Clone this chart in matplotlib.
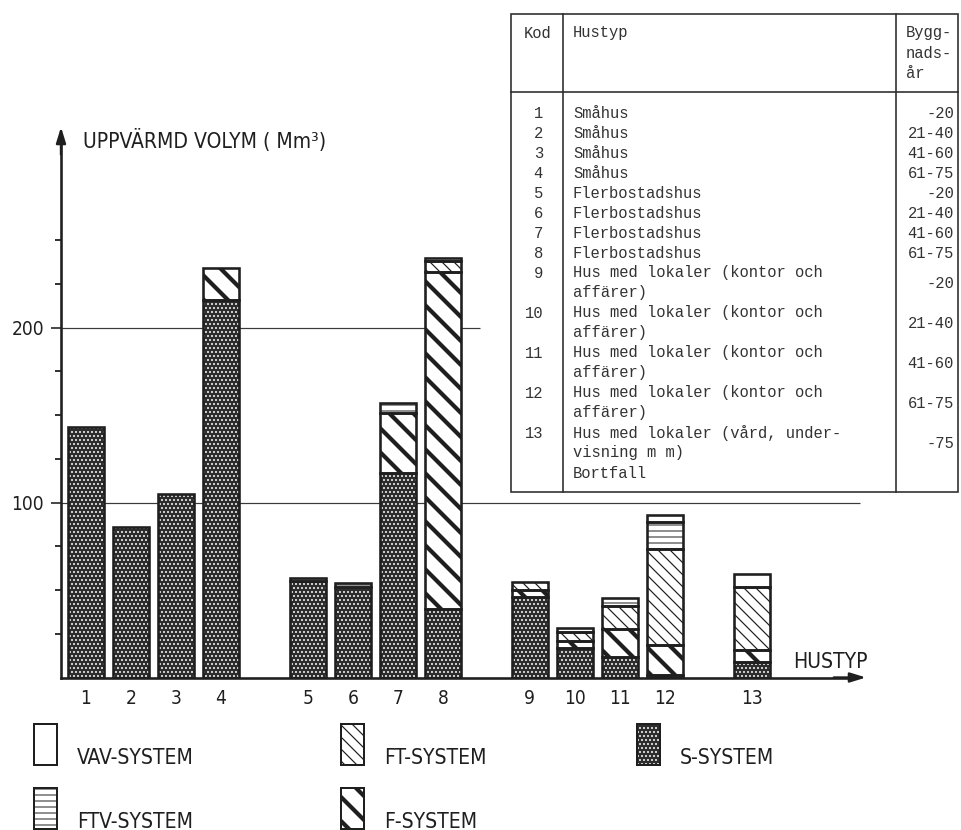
import matplotlib
matplotlib.use("Agg")
import matplotlib.pyplot as plt
from matplotlib.patches import Rectangle
import numpy as np

# ---------------- data ----------------
hustyp_nr = ['1', '2', '3', '4', '5', '6', '7', '8', '9', '10', '11', '12', '13']
group = [0, 0, 0, 0, 1, 1, 1, 1, 2, 2, 2, 2, 3]
s_system = [143, 86, 105, 216, 55, 52, 117, 39, 46, 17, 11.5, 1.7, 8.6]
f_system = [0, 0, 0, 18, 0, 0, 34, 193, 4, 4, 16.5, 16.8, 7.4]
ft_system = [0, 0, 0, 0, 0, 0, 0, 6, 4.5, 5, 12.8, 55.2, 36]
ftv_system = [0, 0, 0, 0, 2, 2, 5.6, 2, 0, 2.4, 4.4, 15.3, 0]
vav_system = [0, 0, 0, 0, 0, 0, 0, 0, 0, 0, 0, 3.6, 7.4]

major_ticks = [100, 200]
minor_ticks = [25, 50, 75, 125, 150, 175, 225, 250]

table_kod = ['1', '2', '3', '4', '5', '6', '7', '8', '9', '10', '11', '12', '13', '']
table_hustyp = ['Småhus', 'Småhus', 'Småhus', 'Småhus',
                'Flerbostadshus', 'Flerbostadshus', 'Flerbostadshus', 'Flerbostadshus',
                'Hus med lokaler (kontor och\naffärer)',
                'Hus med lokaler (kontor och\naffärer)',
                'Hus med lokaler (kontor och\naffärer)',
                'Hus med lokaler (kontor och\naffärer)',
                'Hus med lokaler (vård, under-\nvisning m m)',
                'Bortfall']
table_ar = ['-20', '21-40', '41-60', '61-75', '-20', '21-40', '41-60', '61-75',
            '-20', '21-40', '41-60', '61-75', '-75', '']

# ---------------- style ----------------
INK = '#1f1f1f'
DPI = 72
W, H = 961, 830
SANS = dict(family='DejaVu Sans', stretch='condensed')
MONO = 'Liberation Mono'

styles = {
    'VAV': dict(face='white', hatch=None, hc=INK, hlw=1.0),
    'FTV': dict(face='white', hatch='--', hc='#555555', hlw=1.3),
    'FT': dict(face='white', hatch='\\\\', hc=INK, hlw=1.2),
    'F': dict(face='white', hatch='\\', hc=INK, hlw=4.2),
    'S': dict(face='#2c2c2c', hatch='...', hc='#e8e8e8', hlw=1.3),
}


def set_hlw(patch, lw):
    if hasattr(patch, 'set_hatch_linewidth'):
        patch.set_hatch_linewidth(lw)


fig = plt.figure(figsize=(W / DPI, H / DPI), dpi=DPI)
fig.patch.set_facecolor('white')

# axes in pixel geometry
ax_left, ax_right, ax_bottom, ax_top = 61, 866, 677.5, 127
ax = fig.add_axes([ax_left / W, (H - ax_bottom) / H, (ax_right - ax_left) / W,
                   (ax_bottom - ax_top) / H])
ax.set_facecolor('none')

GROUP_GAP = 0.93
BAR_W = 0.8
xpos = np.arange(len(hustyp_nr)) + np.array(group) * GROUP_GAP

px_per_unit_x = 45.0
first_bar_px = 86.0
ax.set_xlim((ax_left - first_bar_px) / px_per_unit_x, (ax_right - first_bar_px) / px_per_unit_x)
ax.set_ylim(0, (ax_bottom - ax_top) / 1.75)

# grid lines (partial lengths as in the original)
ax.hlines(200, ax.get_xlim()[0], (480 - first_bar_px) / px_per_unit_x, color='#3a3a3a', lw=1.2, zorder=0.5)
ax.hlines(100, ax.get_xlim()[0], (860 - first_bar_px) / px_per_unit_x, color='#3a3a3a', lw=1.2, zorder=0.5)

series = [('S', s_system), ('F', f_system), ('FT', ft_system), ('FTV', ftv_system), ('VAV', vav_system)]
bottom = np.zeros(len(hustyp_nr))
for name, vals in series:
    vals = np.array(vals, dtype=float)
    st = styles[name]
    mask = vals > 0
    with plt.rc_context({'hatch.linewidth': st['hlw'], 'hatch.color': st['hc']}):
        bars = ax.bar(xpos[mask], vals[mask], BAR_W, bottom=bottom[mask], color=st['face'],
                      edgecolor=st['hc'], linewidth=0, hatch=st['hatch'], zorder=2)
        for b in bars:
            set_hlw(b, st['hlw'])
    ax.bar(xpos[mask], vals[mask], BAR_W, bottom=bottom[mask], fill=False,
           edgecolor=INK, linewidth=2.6, zorder=3)
    bottom += vals

# axes styling
for sp in ['top', 'right']:
    ax.spines[sp].set_visible(False)
for sp in ['left', 'bottom']:
    ax.spines[sp].set_linewidth(2.6)
    ax.spines[sp].set_color(INK)
ax.spines['left'].set_bounds(0, ax.get_ylim()[1] - 8)
ax.spines['bottom'].set_bounds(ax.get_xlim()[0], ax.get_xlim()[1] - 0.3)

ax.annotate('', xy=(0, 1), xytext=(0, 0.95), xycoords='axes fraction',
            arrowprops=dict(arrowstyle='-|>,head_length=1.3,head_width=0.4', lw=2.4,
                            color=INK, shrinkA=0, shrinkB=0))
ax.annotate('', xy=(1, 0), xytext=(0.96, 0), xycoords='axes fraction',
            arrowprops=dict(arrowstyle='-|>,head_length=1.3,head_width=0.4', lw=2.4,
                            color=INK, shrinkA=0, shrinkB=0))

ax.set_yticks(major_ticks)
ax.set_yticklabels([str(t) for t in major_ticks], fontsize=19, color=INK, **SANS)
ax.set_yticks(minor_ticks, minor=True)
ax.tick_params(axis='y', which='major', direction='out', length=10, width=1.6, pad=7, colors=INK)
ax.tick_params(axis='y', which='minor', direction='out', length=6, width=1.8, colors=INK)
ax.set_xticks(xpos)
ax.set_xticklabels(hustyp_nr, fontsize=19, color=INK, **SANS)
ax.tick_params(axis='x', length=0, pad=12)

ax.text(0.027, 0.975, 'UPPVÄRMD VOLYM ( Mm³)', transform=ax.transAxes, fontsize=21,
        color=INK, va='center', ha='left', **SANS)
ax.text((793 - ax_left) / (ax_right - ax_left), (ax_bottom - 662) / (ax_bottom - ax_top),
        'HUSTYP', transform=ax.transAxes, fontsize=21, color=INK, va='center', ha='left', **SANS)

# ---------------- overlay (table + legend) in pixel coords ----------------
ov = fig.add_axes([0, 0, 1, 1], zorder=5)
ov.set_xlim(0, W)
ov.set_ylim(H, 0)
ov.axis('off')
ov.patch.set_visible(False)

# table frame
tl, tr, tt, tb = 511, 958, 14, 492
c1, c2, hsep = 563, 896, 92
ov.add_patch(Rectangle((tl, tt), tr - tl, tb - tt, fill=True, facecolor='white',
                       edgecolor='#2a2a2a', lw=1.6))
ov.plot([c1, c1], [tt, tb], color='#2a2a2a', lw=1.6)
ov.plot([c2, c2], [tt, tb], color='#2a2a2a', lw=1.6)
ov.plot([tl, tr], [hsep, hsep], color='#2a2a2a', lw=1.6)

tfs = 15.5
tcol = '#333333'
ov.text(524, 33, 'Kod', fontsize=tfs, family=MONO, color=tcol, va='center', ha='left')
ov.text(573, 33, 'Hustyp', fontsize=tfs, family=MONO, color=tcol, va='center', ha='left')
for i, s in enumerate(['Bygg-', 'nads-', 'år']):
    ov.text(906, 33 + 20 * i, s, fontsize=tfs, family=MONO, color=tcol, va='center', ha='left')

y = 113
LINE = 20
for kod, typ, ar in zip(table_kod, table_hustyp, table_ar):
    lines = typ.split('\n')
    ys = [y + LINE * k for k in range(len(lines))]
    if kod:
        ov.text(543, ys[0], kod, fontsize=tfs, family=MONO, color=tcol, va='center', ha='right')
    for ly, ln in zip(ys, lines):
        ov.text(573, ly, ln, fontsize=tfs, family=MONO, color=tcol, va='center', ha='left')
    if ar:
        ov.text(954, np.mean(ys), ar, fontsize=tfs, family=MONO, color=tcol, va='center', ha='right')
    y += LINE * len(lines)

# legend
legend_items = [('VAV', 'VAV-SYSTEM', 34, 724), ('FT', 'FT-SYSTEM', 341, 724),
                ('S', 'S-SYSTEM', 637, 724), ('FTV', 'FTV-SYSTEM', 34, 788),
                ('F', 'F-SYSTEM', 341, 788)]
bw, bh = 23, 41
for key, label, lx, ly in legend_items:
    st = styles[key]
    with plt.rc_context({'hatch.linewidth': st['hlw'], 'hatch.color': st['hc']}):
        r = Rectangle((lx, ly), bw, bh, facecolor=st['face'], edgecolor=st['hc'], lw=0,
                      hatch=st['hatch'])
        set_hlw(r, st['hlw'])
        ov.add_patch(r)
    ov.add_patch(Rectangle((lx, ly), bw, bh, fill=False, edgecolor=INK, lw=2.0))
    ov.text(lx + bw + 20, ly + bh * 0.82, label, fontsize=21, color=INK, va='center',
            ha='left', **SANS)

fig.savefig('out.png', dpi=DPI, facecolor='white')
